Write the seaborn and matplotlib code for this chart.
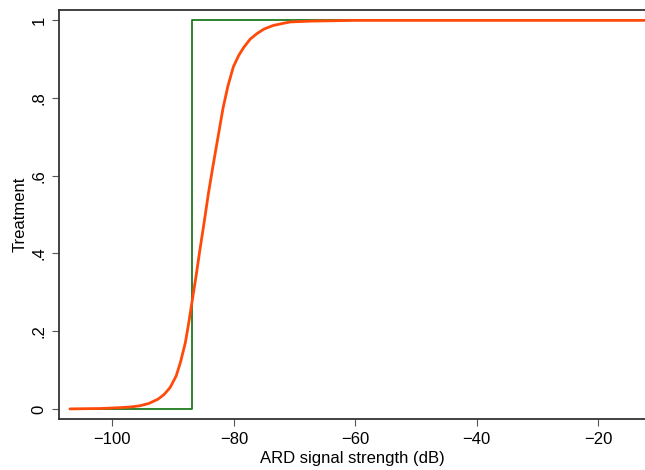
import numpy as np
import pandas as pd
import matplotlib
matplotlib.use("Agg")
import matplotlib.pyplot as plt
import seaborn as sns

# step (sharp) treatment assignment
step_x = [-107, -86.9, -86.9, -12]
step_y = [0, 0, 1, 1]

# fitted (smooth) treatment probability
fit_x = [-107, -102, -99, -97, -95.5, -94, -92.5, -91.5, -90.5, -89.5, -88.8, -88,
         -87.5, -86.9, -86.2, -85.6, -84.9, -84.2, -83.5, -82.8, -81.8, -81, -80.1,
         -79.2, -78.4, -77.3, -76.2, -75, -73.5, -72, -70.7, -67.5, -64, -60, -12]
fit_y = [0.000, 0.001, 0.003, 0.005, 0.008, 0.014, 0.025, 0.037, 0.055, 0.085, 0.12, 0.17,
         0.215, 0.275, 0.345, 0.409, 0.48, 0.554, 0.62, 0.683, 0.773, 0.83, 0.88,
         0.91, 0.93, 0.952, 0.966, 0.978, 0.987, 0.992, 0.996, 0.998, 0.999, 1.0, 1.0]

xticks = [-100, -80, -60, -40, -20]
yticks = [0, 0.2, 0.4, 0.6, 0.8, 1]
ytick_labels = ["0", ".2", ".4", ".6", ".8", "1"]

sns.set_style("white")
plt.rcParams['font.family'] = ['Liberation Sans', 'DejaVu Sans']

fig = plt.figure(figsize=(6.45, 4.7), dpi=100)
ax = fig.add_axes([59 / 645, 1 - 419 / 470, 1 - 59 / 645, (419 - 9.5) / 470])

sns.lineplot(x=step_x, y=step_y, sort=False, estimator=None, color="#1f7a1f", linewidth=1.3, ax=ax)
sns.lineplot(x=fit_x, y=fit_y, sort=False, estimator=None, color="#ff4a0a", linewidth=2.0, ax=ax)

ax.set_xlim(-108.8, -12.3)
ax.set_ylim(-0.026, 1.028)
ax.set_xticks(xticks)
ax.set_xticklabels(["\u2212" + str(-t) for t in xticks])
ax.set_yticks(yticks)
ax.set_yticklabels(ytick_labels, rotation=90, va="center")

ax.tick_params(axis="both", direction="out", length=5, width=0.8, color="#555555",
               labelsize=12, pad=4, bottom=True, left=True, labelcolor="black")
ax.set_xlabel("ARD signal strength (dB)", fontsize=12, labelpad=3, color="black")
ax.set_ylabel("Treatment", fontsize=12, labelpad=3, color="black")

for side in ["left", "bottom", "top"]:
    ax.spines[side].set_color("#333333")
    ax.spines[side].set_linewidth(1.3)
ax.spines["right"].set_visible(False)

fig.savefig("out.png", dpi=100)
